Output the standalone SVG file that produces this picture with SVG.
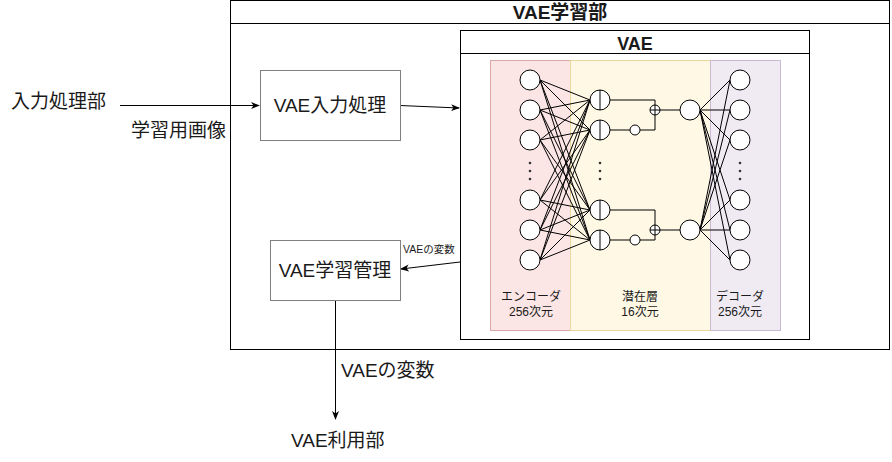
<svg xmlns="http://www.w3.org/2000/svg" width="892" height="462" viewBox="0 0 892 462">
<defs>
<marker id="arr" markerWidth="10" markerHeight="10" refX="8" refY="5" orient="auto" markerUnits="userSpaceOnUse">
<path d="M0,1.5 L9,5 L0,8.5 L2.5,5 Z" fill="#000"/>
</marker>
</defs>
<style>
.t{font-family:"Liberation Sans","Noto Sans CJK JP",sans-serif;fill:#1a1a1a}
.c{text-anchor:middle}
.b{font-weight:bold}
.box{fill:#fff;stroke:#000;stroke-width:1}
.gbox{fill:#fff;stroke:#808080;stroke-width:1}
.n{fill:#fff;stroke:#000;stroke-width:1}
.e{stroke:#000;stroke-width:1;fill:none}
.dot{fill:#333}
</style>
<rect width="892" height="462" fill="#fff"/>

<g id="vae-learning">
<rect class="box" x="230.5" y="0.5" width="659" height="349"/>
<line class="e" x1="230.5" y1="23.5" x2="889.5" y2="23.5"/>
<text class="t c b" x="560" y="19" font-size="19">VAE学習部</text>
</g>

<g id="vae">
<rect class="box" x="460.5" y="30.5" width="349" height="309"/>
<line class="e" x1="460.5" y1="53.5" x2="809.5" y2="53.5"/>
<text class="t c b" x="635" y="50" font-size="18">VAE</text>
</g>

<g id="encoder">
<rect x="490.5" y="60.5" width="80" height="270" fill="#fbe6e5" stroke="#dba9a7"/>
<text class="t c" x="531" y="301" font-size="12">エンコーダ</text>
<text class="t c" x="531" y="316" font-size="12">256次元</text>
</g>
<g id="latent">
<rect x="570.5" y="60.5" width="140" height="270" fill="#fff8e5" stroke="#ebd6a0"/>
<text class="t c" x="640" y="301" font-size="12">潜在層</text>
<text class="t c" x="640" y="316" font-size="12">16次元</text>
</g>
<g id="decoder">
<rect x="710.5" y="60.5" width="70" height="270" fill="#f0eaf3" stroke="#cab9d2"/>
<text class="t c" x="740" y="301" font-size="12">デコーダ</text>
<text class="t c" x="740" y="316" font-size="12">256次元</text>
</g>

<g id="connectors">
<g class="e">
<line x1="540" y1="80" x2="590" y2="100"/><line x1="540" y1="80" x2="590" y2="130"/><line x1="540" y1="80" x2="590" y2="210"/><line x1="540" y1="80" x2="590" y2="240"/>
<line x1="540" y1="110" x2="590" y2="100"/><line x1="540" y1="110" x2="590" y2="130"/><line x1="540" y1="110" x2="590" y2="210"/><line x1="540" y1="110" x2="590" y2="240"/>
<line x1="540" y1="140" x2="590" y2="100"/><line x1="540" y1="140" x2="590" y2="130"/><line x1="540" y1="140" x2="590" y2="210"/><line x1="540" y1="140" x2="590" y2="240"/>
<line x1="540" y1="200" x2="590" y2="100"/><line x1="540" y1="200" x2="590" y2="130"/><line x1="540" y1="200" x2="590" y2="210"/><line x1="540" y1="200" x2="590" y2="240"/>
<line x1="540" y1="230" x2="590" y2="100"/><line x1="540" y1="230" x2="590" y2="130"/><line x1="540" y1="230" x2="590" y2="210"/><line x1="540" y1="230" x2="590" y2="240"/>
<line x1="540" y1="260" x2="590" y2="100"/><line x1="540" y1="260" x2="590" y2="130"/><line x1="540" y1="260" x2="590" y2="210"/><line x1="540" y1="260" x2="590" y2="240"/>
</g>
<g class="e">
<line x1="700" y1="110" x2="730" y2="80"/><line x1="700" y1="110" x2="730" y2="110"/><line x1="700" y1="110" x2="730" y2="140"/><line x1="700" y1="110" x2="730" y2="200"/><line x1="700" y1="110" x2="730" y2="230"/><line x1="700" y1="110" x2="730" y2="260"/>
<line x1="700" y1="230" x2="730" y2="80"/><line x1="700" y1="230" x2="730" y2="110"/><line x1="700" y1="230" x2="730" y2="140"/><line x1="700" y1="230" x2="730" y2="200"/><line x1="700" y1="230" x2="730" y2="230"/><line x1="700" y1="230" x2="730" y2="260"/>
</g>
<g class="e">
<polyline points="610,100 655,100 655,105"/>
<line x1="610" y1="130" x2="630" y2="130"/>
<polyline points="640,130 655,130 655,115"/>
<line x1="660" y1="110" x2="680" y2="110"/>
<polyline points="610,210 655,210 655,225"/>
<line x1="610" y1="240" x2="630" y2="240"/>
<polyline points="640,240 655,240 655,235"/>
<line x1="660" y1="230" x2="680" y2="230"/>
</g>
<line class="e" x1="120" y1="105.5" x2="259" y2="105.5" marker-end="url(#arr)"/>
<line class="e" x1="400" y1="105.5" x2="459" y2="108" marker-end="url(#arr)"/>
<line class="e" x1="460" y1="262" x2="401" y2="269" marker-end="url(#arr)"/>
<line class="e" x1="335.5" y1="300" x2="335.5" y2="419" marker-end="url(#arr)"/>
<text class="t" x="403" y="253" font-size="10.5">VAEの変数</text>
<text class="t" x="341" y="377" font-size="19">VAEの変数</text>
<text class="t" x="131" y="137" font-size="19">学習用画像</text>
</g>

<g id="nodes">
<g id="enc-nodes">
<circle class="n" cx="530" cy="80" r="10"/><circle class="n" cx="530" cy="110" r="10"/><circle class="n" cx="530" cy="140" r="10"/>
<circle class="n" cx="530" cy="200" r="10"/><circle class="n" cx="530" cy="230" r="10"/><circle class="n" cx="530" cy="260" r="10"/>
<circle class="dot" cx="530" cy="163" r="1.3"/><circle class="dot" cx="530" cy="171" r="1.3"/><circle class="dot" cx="530" cy="179" r="1.3"/>
</g>
<g id="lat-nodes">
<circle class="n" cx="600" cy="100" r="10"/><line class="e" x1="600" y1="90" x2="600" y2="110"/>
<circle class="n" cx="600" cy="130" r="10"/><line class="e" x1="600" y1="120" x2="600" y2="140"/>
<circle class="n" cx="600" cy="210" r="10"/><line class="e" x1="600" y1="200" x2="600" y2="220"/>
<circle class="n" cx="600" cy="240" r="10"/><line class="e" x1="600" y1="230" x2="600" y2="250"/>
<circle class="dot" cx="600" cy="163" r="1.3"/><circle class="dot" cx="600" cy="171" r="1.3"/><circle class="dot" cx="600" cy="179" r="1.3"/>
<circle class="n" cx="635" cy="130" r="5"/>
<circle class="n" cx="635" cy="240" r="5"/>
<circle class="n" cx="655" cy="110" r="5"/><path class="e" d="M650,110 H660 M655,105 V115"/>
<circle class="n" cx="655" cy="230" r="5"/><path class="e" d="M650,230 H660 M655,225 V235"/>
<circle class="n" cx="690" cy="110" r="10"/>
<circle class="n" cx="690" cy="230" r="10"/>
</g>
<g id="dec-nodes">
<circle class="n" cx="740" cy="80" r="10"/><circle class="n" cx="740" cy="110" r="10"/><circle class="n" cx="740" cy="140" r="10"/>
<circle class="n" cx="740" cy="200" r="10"/><circle class="n" cx="740" cy="230" r="10"/><circle class="n" cx="740" cy="260" r="10"/>
<circle class="dot" cx="740" cy="163" r="1.3"/><circle class="dot" cx="740" cy="171" r="1.3"/><circle class="dot" cx="740" cy="179" r="1.3"/>
</g>
</g>

<g id="input-processing-src">
<text class="t" x="11" y="108" font-size="19">入力処理部</text>
</g>
<g id="vae-input">
<rect class="gbox" x="260.5" y="70.5" width="140" height="70"/>
<text class="t c" x="330" y="112" font-size="19">VAE入力処理</text>
</g>
<g id="vae-manager">
<rect class="gbox" x="270.5" y="240.5" width="130" height="60"/>
<text class="t c" x="335" y="277" font-size="19">VAE学習管理</text>
</g>
<g id="vae-user">
<text class="t" x="291" y="447" font-size="19">VAE利用部</text>
</g>
</svg>
